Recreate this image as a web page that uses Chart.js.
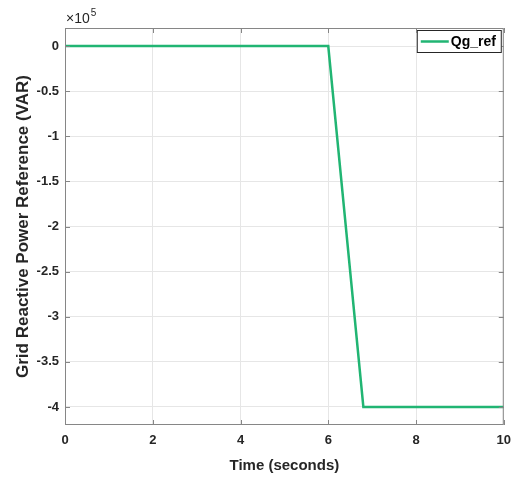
<!DOCTYPE html>
<html>
<head>
<meta charset="utf-8">
<script src="https://cdn.jsdelivr.net/npm/chart.js@4"></script>
<style>
  html, body { margin: 0; padding: 0; background: #fff; }
  #wrap { width: 519px; height: 477px; }
</style>
</head>
<body>
<div id="wrap"><canvas id="qgChart"></canvas></div>
<script>
// Qg_ref vs time, values in VAR
const times = [0, 6, 6.8, 10];
const qgRef = [0, 0, -400000, -400000];
const xTicks = [0, 2, 4, 6, 8, 10];
const yTicks = [0, -0.5, -1, -1.5, -2, -2.5, -3, -3.5, -4];
const yExp = 1e5;

const FONT = "'Liberation Sans', Arial, sans-serif";
const AXIS_COLOR = "#868686";
const GRID_COLOR = "#e6e6e6";
const LINE_COLOR = "#21b573";

// box, inward ticks, legend and the x10^5 label, MATLAB style
const matlabAxes = {
    id: "matlabAxes",
    afterDatasetsDraw(chart) {
        const { ctx, chartArea: a, scales } = chart;
        ctx.save();
        ctx.strokeStyle = AXIS_COLOR;
        ctx.lineWidth = 1;
        ctx.strokeRect(a.left + 0.5, a.top + 0.5, a.right - a.left - 1, a.bottom - a.top - 1);
        ctx.beginPath();
        xTicks.forEach(v => {
            const px = Math.round(scales.x.getPixelForValue(v)) + 0.5;
            ctx.moveTo(px, a.bottom); ctx.lineTo(px, a.bottom - 5);
            ctx.moveTo(px, a.top); ctx.lineTo(px, a.top + 5);
        });
        yTicks.forEach(v => {
            const py = Math.round(scales.y.getPixelForValue(v * yExp)) + 0.5;
            ctx.moveTo(a.left, py); ctx.lineTo(a.left + 5, py);
            ctx.moveTo(a.right, py); ctx.lineTo(a.right - 5, py);
        });
        ctx.stroke();

        ctx.fillStyle = "#262626";
        ctx.textBaseline = "alphabetic";
        ctx.font = "14px " + FONT;
        ctx.fillText("\u00d710", a.left + 1, a.top - 5);
        const w = ctx.measureText("\u00d710").width;
        ctx.font = "10px " + FONT;
        ctx.fillText("5", a.left + 1 + w + 1, a.top - 12);

        // legend box in the top right corner
        const ds = chart.data.datasets[0];
        const bx = a.right - 87, by = a.top + 2, bw = 85, bh = 23;
        ctx.fillStyle = "#fff";
        ctx.fillRect(bx, by, bw, bh);
        ctx.strokeStyle = "#262626";
        ctx.lineWidth = 1;
        ctx.strokeRect(bx + 0.5, by + 0.5, bw - 1, bh - 1);
        ctx.strokeStyle = ds.borderColor;
        ctx.lineWidth = 2.5;
        ctx.beginPath();
        ctx.moveTo(bx + 4, by + bh / 2);
        ctx.lineTo(bx + 32, by + bh / 2);
        ctx.stroke();
        ctx.fillStyle = "#000";
        ctx.font = "bold 14px " + FONT;
        ctx.textBaseline = "middle";
        ctx.fillText(ds.label, bx + 34, by + bh / 2 + 1);
        ctx.restore();
    }
};

new Chart(document.getElementById("qgChart"), {
    type: "line",
    data: {
        datasets: [{
            label: "Qg_ref",
            data: times.map((t, i) => ({ x: t, y: qgRef[i] })),
            borderColor: LINE_COLOR,
            backgroundColor: LINE_COLOR,
            borderWidth: 2.5,
            pointRadius: 0,
            tension: 0
        }]
    },
    options: {
        responsive: true,
        maintainAspectRatio: false,
        animation: false,
        layout: { padding: { top: 28, right: 15, left: 0, bottom: 0 } },
        plugins: {
            legend: { display: false },
            tooltip: { enabled: false }
        },
        scales: {
            x: {
                type: "linear",
                min: 0,
                max: 10,
                afterFit: s => { s.height = 52; },
                afterBuildTicks: s => { s.ticks = xTicks.map(v => ({ value: v })); },
                grid: { color: GRID_COLOR, drawTicks: false },
                border: { display: false },
                ticks: {
                    color: "#262626",
                    padding: 8,
                    maxRotation: 0,
                    font: { family: FONT, size: 13, weight: "bold" }
                },
                title: {
                    display: true,
                    text: "Time (seconds)",
                    color: "#262626",
                    padding: { top: 0, bottom: 2 },
                    font: { family: FONT, size: 15, weight: "bold" }
                }
            },
            y: {
                type: "linear",
                min: -4.2 * yExp,
                max: 0.2 * yExp,
                afterFit: s => { s.width = 65; },
                afterBuildTicks: s => { s.ticks = yTicks.map(v => ({ value: v * yExp })); },
                grid: { color: GRID_COLOR, drawTicks: false },
                border: { display: false },
                ticks: {
                    color: "#262626",
                    padding: 6,
                    font: { family: FONT, size: 13, weight: "bold" },
                    callback: v => String(Math.round(v / yExp * 10) / 10)
                },
                title: {
                    display: true,
                    text: "Grid Reactive Power Reference (VAR)",
                    color: "#262626",
                    padding: { top: 13, bottom: 0 },
                    font: { family: FONT, size: 17, weight: "bold" }
                }
            }
        }
    },
    plugins: [matlabAxes]
});
</script>
</body>
</html>
